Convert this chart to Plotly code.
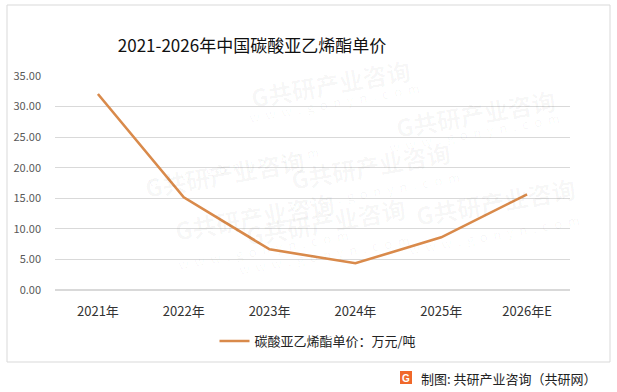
import plotly.graph_objects as go

categories = ["2021年", "2022年", "2023年", "2024年", "2025年", "2026年E"]
prices = [32.06, 15.16, 6.65, 4.37, 8.62, 15.65]
series_name = "碳酸亚乙烯酯单价：万元/吨"
title_text = "2021-2026年中国碳酸亚乙烯酯单价"
y_ticks = [0, 5, 10, 15, 20, 25, 30, 35]
source_text = "制图: 共研产业咨询（共研网）"

W, H = 617, 392
L, R, T, B = 55, 47, 76, 102
pw, ph = W - L - R, H - T - B

def px(x):
    return (x - L) / pw

def py(y):
    return (H - B - y) / ph

font = "Noto Sans CJK SC, Microsoft YaHei, sans-serif"

fig = go.Figure()
fig.add_trace(go.Scatter(
    x=categories, y=prices, mode="lines", name=series_name,
    line=dict(color="#D98A4B", width=2.6),
))

fig.update_layout(
    width=W, height=H,
    margin=dict(l=L, r=R, t=T, b=B),
    paper_bgcolor="white", plot_bgcolor="rgba(0,0,0,0)",
    font=dict(family=font, color="#404040", size=12),
    title=dict(text=title_text, x=px(252), xanchor="center", xref="paper",
               y=1 - 46 / H, yanchor="middle",
               font=dict(size=17, color="#111111", family=font)),
    showlegend=True,
    legend=dict(orientation="h", x=px(318), xanchor="center", y=py(341), yanchor="middle",
                font=dict(size=13, color="#222222"), bgcolor="rgba(0,0,0,0)",
                itemwidth=30),
    xaxis=dict(type="category", range=[-0.5, 5.5], showgrid=False, showline=False,
               ticks="", tickfont=dict(size=13, color="#333333"), fixedrange=True,
               ticklabelstandoff=12),
    yaxis=dict(range=[0, 35], tickvals=y_ticks, tickformat=".2f", showgrid=True,
               gridcolor="#D9D9D9", gridwidth=1, zeroline=True, zerolinecolor="#D9D9D9",
               showline=False, ticks="", tickfont=dict(size=11, color="#595959"),
               ticklabelstandoff=13, fixedrange=True),
)

# Outer border
fig.add_shape(type="rect", xref="paper", yref="paper",
              x0=px(7), x1=px(610), y0=py(362), y1=py(5),
              line=dict(color="#D9D9D9", width=1), fillcolor="rgba(0,0,0,0)", layer="below")

# Watermarks (faint)
wm = [(140, 140), (330, 50), (560, 80), (370, 165), (170, 250), (410, 255), (580, 235)]
for (wx, wy) in wm:
    fig.add_annotation(xref="paper", yref="paper", x=px(wx), y=py(wy),
                       text="<b>G共研产业咨询</b>",
                       showarrow=False, textangle=-10,
                       font=dict(size=24, color="rgba(0,0,0,0.035)", family=font))
    fig.add_annotation(xref="paper", yref="paper", x=px(wx + 4), y=py(wy + 26),
                       text="w  w  w  .  g  o  n  y  n  .  c  o  m",
                       showarrow=False, textangle=-10,
                       font=dict(size=13, color="rgba(0,0,0,0.035)", family=font))

# Source logo + text
fig.add_shape(type="rect", xref="paper", yref="paper",
              x0=px(400), x1=px(412), y0=py(384), y1=py(371),
              line=dict(width=0), fillcolor="#F0682A", layer="above",
              label=dict(text="<b>G</b>", font=dict(size=10, color="white", family="Arial"),
                         textposition="middle center"))
fig.add_annotation(xref="paper", yref="paper", x=px(599), y=py(378), xanchor="right",
                   yanchor="middle", text=source_text, showarrow=False,
                   font=dict(size=13, color="#222222", family=font))

fig.write_html("out.html")
